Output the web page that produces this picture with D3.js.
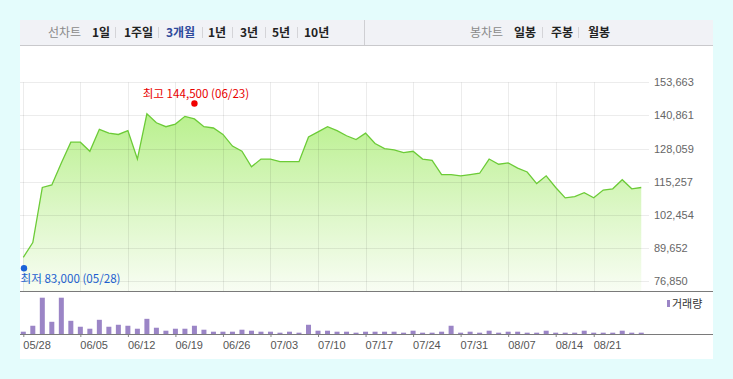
<!DOCTYPE html>
<html><head><meta charset="utf-8">
<script src="https://cdn.jsdelivr.net/npm/d3@7"></script>
<style>
html,body{margin:0;padding:0;background:#e4fcfc;}
svg{display:block;font-family:"Noto Sans CJK KR","Noto Sans",sans-serif;}
</style></head>
<body>
<svg id="c" width="733" height="379"></svg>
<script>
const dates = ["05/28","05/29","06/01","06/02","06/03","06/04","06/05","06/08","06/09","06/10","06/11","06/12",
"06/15","06/16","06/17","06/18","06/19","06/22","06/23","06/24","06/25","06/26","06/29","06/30","07/01","07/02","07/03",
"07/06","07/07","07/08","07/09","07/10","07/13","07/14","07/15","07/16","07/17","07/20","07/21","07/22","07/23","07/24",
"07/27","07/28","07/29","07/30","07/31","08/03","08/04","08/05","08/06","08/07","08/10","08/11","08/12","08/13","08/14",
"08/18","08/19","08/20","08/21","08/24","08/25","08/26","08/27","08/28"];
const closePrices = [86000,91700,113000,114000,122500,130500,130500,127000,135500,134000,133500,135000,
124000,141500,138000,136500,137500,140500,139500,136500,136000,133500,129000,127000,121000,124000,124000,
123000,123000,123000,132500,134500,136500,135000,133000,131500,134000,130000,128000,127500,126500,127000,
124000,123500,118000,118000,117500,118000,118500,124000,122000,122500,120500,119000,114500,117500,113000,
109000,109500,111000,109000,112000,112500,116000,112500,113000];
const volumes = [70000,250000,1100000,370000,1100000,400000,220000,160000,430000,220000,280000,250000,
160000,460000,190000,100000,160000,160000,250000,130000,70000,70000,70000,130000,100000,70000,70000,
40000,70000,40000,280000,100000,100000,70000,70000,40000,70000,70000,70000,70000,40000,100000,
40000,40000,70000,250000,40000,70000,40000,100000,40000,70000,70000,40000,40000,100000,40000,
40000,40000,100000,40000,40000,40000,100000,40000,40000];
const yTicks = [76850,89652,102454,115257,128059,140861,153663];
const xTickLabels = ["05/28","06/05","06/12","06/19","06/26","07/03","07/10","07/17","07/24","07/31","08/07","08/14","08/21"];
const highPoint = {date:"06/23", value:144500, label:"최고 144,500 (06/23)"};
const lowPoint = {date:"05/28", value:83000, label:"최저 83,000 (05/28)"};
const leftMenu = ["선차트","1일","1주일","3개월","1년","3년","5년","10년"];
const rightMenu = ["봉차트","일봉","주봉","월봉"];
const volumeLabel = "거래량";

const svg = d3.select("#c");
const fmt = d3.format(",");

// panel
svg.append("rect").attr("x",20).attr("y",20).attr("width",693).attr("height",339).attr("fill","#fff");
// header
svg.append("rect").attr("x",20).attr("y",20).attr("width",693).attr("height",25).attr("fill","#f1f2f6");
svg.append("line").attr("x1",20).attr("x2",713).attr("y1",45.5).attr("y2",45.5).attr("stroke","#c9c9cc");
svg.append("line").attr("x1",364.5).attr("x2",364.5).attr("y1",20).attr("y2",45).attr("stroke","#cfcfd3");

function menu(items, xs, seps, activeIdx){
  items.forEach((t,i)=>{
    svg.append("text").attr("x",xs[i]).attr("y",36.5)
      .attr("font-size",12)
      .attr("font-weight", i===0 ? "normal" : "bold")
      .attr("fill", i===0 ? "#8a8a8a" : (i===activeIdx ? "#2e4a9c" : "#222"))
      .text(t);
  });
  seps.forEach(s=>{
    svg.append("line").attr("x1",s+0.5).attr("x2",s+0.5).attr("y1",27).attr("y2",38).attr("stroke","#d4d4d8");
  });
}
menu(leftMenu,[48,92,124,166,208,240,272,304],[115,158,202,232,265,297],3);
menu(rightMenu,[470,514,551,588],[542,578],-1);

// scales
const x = d3.scalePoint().domain(dates).range([23.3, 23.3 + 9.507*(dates.length-1)]);
const y = d3.scaleLinear().domain([76850,153663]).range([281,82.3]);
const yv = d3.scaleLinear().domain([0,1100000]).range([334,297.7]);
const plotBottom = 291;

// gradient
const defs = svg.append("defs");
const g = defs.append("linearGradient").attr("id","fillg")
  .attr("gradientUnits","userSpaceOnUse").attr("y1",110).attr("y2",plotBottom).attr("x1",0).attr("x2",0);
g.append("stop").attr("offset",0).attr("stop-color","#b8f08c");
g.append("stop").attr("offset",0.55).attr("stop-color","#dcf7c6");
g.append("stop").attr("offset",1).attr("stop-color","#f8fdf3");

const data = dates.map((d,i)=>({d, c:closePrices[i], v:volumes[i]}));

// area
svg.append("path").datum(data)
  .attr("d", d3.area().x(p=>x(p.d)).y0(plotBottom).y1(p=>y(p.c)))
  .attr("fill","url(#fillg)");

// gridlines
const grid = svg.append("g");
grid.selectAll(".h").data(yTicks).join("line")
  .attr("x1",20).attr("x2",649).attr("y1",d=>Math.round(y(d))+0.5).attr("y2",d=>Math.round(y(d))+0.5)
  .attr("stroke","rgba(0,0,0,0.075)");
grid.selectAll(".v").data(xTickLabels).join("line")
  .attr("x1",d=>Math.round(x(d))+0.5).attr("x2",d=>Math.round(x(d))+0.5)
  .attr("y1",y(153663)).attr("y2",plotBottom)
  .attr("stroke","rgba(0,0,0,0.075)");

// line
svg.append("path").datum(data)
  .attr("d", d3.line().x(p=>x(p.d)).y(p=>y(p.c)))
  .attr("fill","none").attr("stroke","#6ccb37").attr("stroke-width",1.3);

// y axis labels
const yAxis = d3.axisRight(y).tickValues(yTicks).tickSize(0).tickPadding(0).tickFormat(fmt);
const ya = svg.append("g").attr("transform","translate(654,0)").call(yAxis);
ya.select(".domain").remove();
ya.selectAll("text").attr("font-size",11).attr("fill","#666").attr("font-family","'Liberation Sans',sans-serif");

// high / low markers
svg.append("circle").attr("cx",x(highPoint.date)).attr("cy",y(highPoint.value)-2.5).attr("r",3.2).attr("fill","#f00000");
svg.append("text").attr("x",142.7).attr("y",97.5).attr("font-size",11.6).attr("fill","#e80000").text(highPoint.label);
svg.append("circle").attr("cx",x(lowPoint.date)+0.7).attr("cy",y(lowPoint.value)+3.2).attr("r",3.2).attr("fill","#1c62d8");
svg.append("text").attr("x",20.5).attr("y",283.2).attr("font-size",11.6).attr("fill","#1c5fd0").text(lowPoint.label);

// divider lines
svg.append("line").attr("x1",20).attr("x2",713).attr("y1",291.5).attr("y2",291.5).attr("stroke","#7a7a7a");

// volume bars
svg.selectAll(".bar").data(data).join("rect")
  .attr("x",p=>x(p.d)-2.5).attr("width",5)
  .attr("y",p=>yv(p.v)).attr("height",p=>334-yv(p.v))
  .attr("fill","#9b85c6");

// x axis
const xAxis = d3.axisBottom(x).tickValues(xTickLabels).tickSize(3).tickPadding(4);
const xa = svg.append("g").attr("transform","translate(0,334)").call(xAxis);
xa.select(".domain").remove();
xa.selectAll(".tick line").attr("stroke","#888");
xa.selectAll("text").attr("font-size",11).attr("fill","#555").attr("text-anchor","start")
  .attr("font-family","'Liberation Sans',sans-serif").attr("dx",-0.5);
svg.append("line").attr("x1",20).attr("x2",713).attr("y1",334.5).attr("y2",334.5).attr("stroke","#7a7a7a");

// legend
svg.append("rect").attr("x",667).attr("y",300).attr("width",3).attr("height",7).attr("fill","#9b85c6");
svg.append("text").attr("x",672).attr("y",307.5).attr("font-size",11).attr("fill","#333").text(volumeLabel);
</script>
</body></html>
